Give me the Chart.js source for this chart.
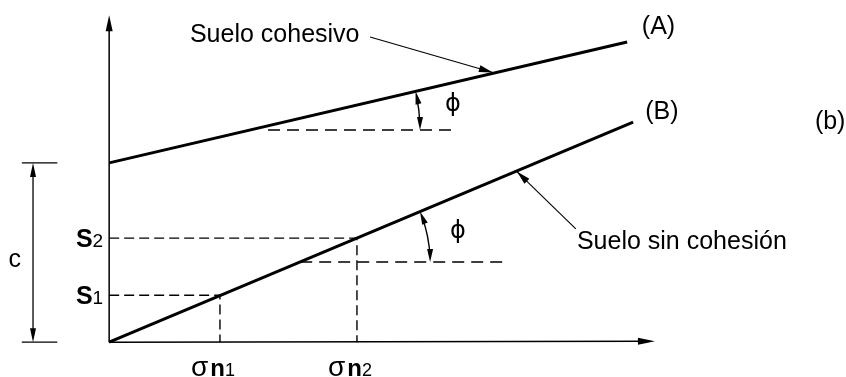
<!DOCTYPE html>
<html>
<head>
<meta charset="utf-8">
<script src="https://cdn.jsdelivr.net/npm/chart.js@4/dist/chart.umd.min.js"></script>
<style>
  html, body { margin: 0; padding: 0; background: #fff; }
</style>
</head>
<body>
<canvas id="graph" width="846" height="377"></canvas>
<script>
// rangos de los ejes (unidades arbitrarias del esquema)
const xRange = [-20, 135];
const yRange = [-6.4, 62.8];
const axisEnd = [100, 60];

// envolventes de falla (A) suelo cohesivo y (B) suelo sin cohesion
const lineAx = [0, 94.9];
const lineAy = [32.9, 55.1];
const lineBx = [0, 96.0];
const lineBy = [0, 40.4];

// cohesion c y puntos de ensayo
const cohesion = 32.9;
const sigmaN = [20.3, 45.4];
const shearS = [8.6, 19.1];
const cDimX = -13.95;
const cTick = [-16.0, -9.5];

// lineas de referencia horizontales para el angulo phi: [x0, x1, y, xPie]
const phiBaseA = [29.1, 62.8, 38.94, 56.95];
const phiBaseB = [35.0, 72.2, 14.71, 58.8];

// textos
const textLabels = [
  { text: "Suelo cohesivo", x: 14.8, y: 56.4, align: "left" },
  { text: "(A)", x: 97.6, y: 57.8, align: "left" },
  { text: "(B)", x: 98.2, y: 42.2, align: "left" },
  { text: "(b)", x: 129.3, y: 40.4, align: "left" },
  { text: "Suelo sin cohesión", x: 85.7, y: 18.4, align: "left" },
  { text: "c", x: -17.3, y: 15.1, align: "center" },
];
const phiLabels = [[63.0, 43.5], [63.9, 20.2]];
// flechas indicadoras [x0, y0, x1, y1]
const leaders = [
  [47.8, 56.0, 70.3, 49.5],
  [85.5, 20.8, 74.7, 31.3],
];

const ink = "#000";
const font = "'Liberation Sans', Arial, sans-serif";

const pts = (xs, ys) => xs.map((x, i) => ({ x, y: ys[i] }));

function head(ctx, x, y, dx, dy, len, half) {
  const n = Math.hypot(dx, dy);
  dx /= n; dy /= n;
  ctx.beginPath();
  ctx.moveTo(x, y);
  ctx.lineTo(x - dx * len - dy * half, y - dy * len + dx * half);
  ctx.lineTo(x - dx * len + dy * half, y - dy * len - dx * half);
  ctx.closePath();
  ctx.fill();
}

const sketch = {
  id: "sketch",
  afterDatasetsDraw(chart) {
    const ctx = chart.ctx;
    const sx = chart.scales.x, sy = chart.scales.y;
    const px = (v) => sx.getPixelForValue(v);
    const py = (v) => sy.getPixelForValue(v);
    ctx.save();
    ctx.strokeStyle = ink;
    ctx.fillStyle = ink;
    ctx.setLineDash([]);

    // ejes
    ctx.lineWidth = 1.5;
    ctx.beginPath();
    ctx.moveTo(px(0), py(0));
    ctx.lineTo(px(0), py(axisEnd[1]) + 10);
    ctx.moveTo(px(0), py(0));
    ctx.lineTo(px(axisEnd[0]) - 10, py(0) - 1);
    ctx.stroke();
    head(ctx, px(0), py(axisEnd[1]), 0, -1, 16, 3.5);
    head(ctx, px(axisEnd[0]), py(0) - 1, 1, 0, 17, 3.5);

    // cota de la cohesion
    ctx.lineWidth = 1.3;
    ctx.beginPath();
    ctx.moveTo(px(cDimX), py(0) - 8);
    ctx.lineTo(px(cDimX), py(cohesion) + 8);
    ctx.stroke();
    head(ctx, px(cDimX), py(cohesion), 0, -1, 14, 3);
    head(ctx, px(cDimX), py(0), 0, 1, 14, 3);

    // arcos del angulo phi
    [[phiBaseA, lineAx, lineAy], [phiBaseB, lineBx, lineBy]].forEach(([b, lx, ly]) => {
      const slope = (ly[1] - ly[0]) / (lx[1] - lx[0]);
      const xc = lx[0] + (b[2] - ly[0]) / slope;
      const cx = px(xc), cy = py(b[2]);
      const r = px(b[3]) - cx;
      const ang = Math.atan2(py(ly[0]) - py(ly[1]), px(lx[1]) - px(lx[0]));
      ctx.lineWidth = 1.4;
      ctx.beginPath();
      ctx.arc(cx, cy, r, -ang + 0.04, -0.04);
      ctx.stroke();
      head(ctx, cx + r, cy, 0, 1, 13, 3);
      head(ctx, cx + r * Math.cos(ang), cy - r * Math.sin(ang), -Math.sin(ang), -Math.cos(ang), 13, 3);
    });

    // flechas indicadoras
    ctx.lineWidth = 1.1;
    leaders.forEach(([x0, y0, x1, y1]) => {
      const a = px(x0), b = py(y0), c = px(x1), d = py(y1);
      ctx.beginPath();
      ctx.moveTo(a, b);
      ctx.lineTo(c, d);
      ctx.stroke();
      head(ctx, c, d, c - a, d - b, 14, 3.5);
    });

    // textos
    ctx.textBaseline = "middle";
    ctx.font = "25px " + font;
    textLabels.forEach((t) => {
      ctx.textAlign = t.align;
      ctx.fillText(t.text, px(t.x), py(t.y));
    });
    ctx.textAlign = "center";
    ctx.font = "24px 'DejaVu Sans', " + font;
    phiLabels.forEach(([x, y]) => ctx.fillText("ϕ", px(x), py(y)));

    // S1, S2
    ctx.textBaseline = "alphabetic";
    shearS.forEach((s, i) => {
      ctx.font = "bold 25px " + font;
      const wS = ctx.measureText("S").width;
      ctx.font = "19px " + font;
      const wN = ctx.measureText(String(i + 1)).width;
      const right = px(0) - 6;
      const base = py(s) + 9;
      ctx.textAlign = "left";
      ctx.font = "bold 25px " + font;
      ctx.fillText("S", right - wS - wN, base);
      ctx.font = "19px " + font;
      ctx.fillText(String(i + 1), right - wN, base);
    });

    // sigma n1, n2
    sigmaN.forEach((s, i) => {
      const base = py(0) + 34;
      let x = px(s) - 29;
      ctx.textAlign = "left";
      ctx.font = "28px " + font;
      ctx.fillText("σ", x, base);
      x += ctx.measureText("σ").width + 2;
      ctx.font = "bold 24px " + font;
      ctx.fillText("n", x, base);
      x += ctx.measureText("n").width;
      ctx.font = "18px " + font;
      ctx.fillText(String(i + 1), x, base);
    });
    ctx.restore();
  },
};

const dashed = { borderColor: ink, borderWidth: 1.4, borderDash: [10, 5], pointRadius: 0, showLine: true, clip: false };
const solid = { borderColor: ink, borderWidth: 3, pointRadius: 0, showLine: true, clip: false };

new Chart(document.getElementById("graph").getContext("2d"), {
  type: "scatter",
  data: {
    datasets: [
      { label: "A", data: pts(lineAx, lineAy), ...solid },
      { label: "B", data: pts(lineBx, lineBy), ...solid },
      { label: "S1", data: [{ x: 0, y: shearS[0] }, { x: sigmaN[0], y: shearS[0] }, { x: sigmaN[0], y: 0 }], ...dashed },
      { label: "S2", data: [{ x: 0, y: shearS[1] }, { x: sigmaN[1], y: shearS[1] }, { x: sigmaN[1], y: 0 }], ...dashed },
      { label: "phiA", data: [{ x: phiBaseA[0], y: phiBaseA[2] }, { x: phiBaseA[1], y: phiBaseA[2] }], ...dashed, borderDash: [12, 7] },
      { label: "phiB", data: [{ x: phiBaseB[0], y: phiBaseB[2] }, { x: phiBaseB[1], y: phiBaseB[2] }], ...dashed, borderDash: [12, 7] },
      { label: "cTop", data: [{ x: cTick[0], y: cohesion }, { x: cTick[1], y: cohesion }], ...solid, borderWidth: 1.3 },
      { label: "cBot", data: [{ x: cTick[0], y: 0 }, { x: cTick[1], y: 0 }], ...solid, borderWidth: 1.3 },
    ],
  },
  options: {
    responsive: false,
    animation: false,
    events: [],
    layout: { padding: 0 },
    plugins: { legend: { display: false }, tooltip: { enabled: false } },
    scales: {
      x: { type: "linear", min: xRange[0], max: xRange[1], display: false },
      y: { type: "linear", min: yRange[0], max: yRange[1], display: false },
    },
  },
  plugins: [sketch],
});
</script>
</body>
</html>
